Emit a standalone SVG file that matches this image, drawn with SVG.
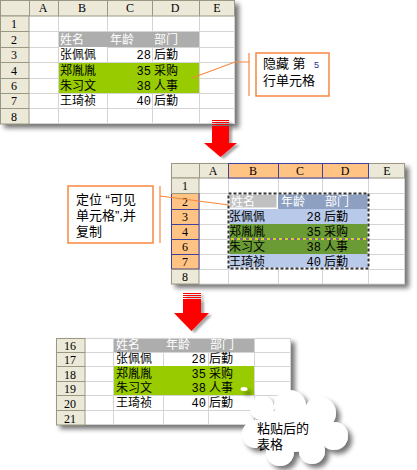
<svg xmlns="http://www.w3.org/2000/svg" width="417" height="470" viewBox="0 0 417 470">
<defs>
<style>
.hd{fill:#ece9d8;stroke:#9a9882;stroke-width:1}
.hdo{fill:#ffc384;stroke:#4040a0;stroke-width:1}
.grid{stroke:#d4d4d4;stroke-width:1;fill:none}
.hl{font-family:"Liberation Serif",serif;font-size:12px;fill:#000;text-anchor:middle}
.c{font-family:"Liberation Sans","Noto Sans CJK SC",sans-serif;font-size:12px;fill:#000}
.w{fill:#fff}
.n{font-family:"Liberation Mono",monospace;font-size:12px;fill:#000;text-anchor:end}
.co{font-family:"Liberation Sans","Noto Sans CJK SC",sans-serif;font-size:13px;fill:#000}
.ob{fill:#fff;stroke:#f7883e;stroke-width:1.5}
.ol{stroke:#f7883e;stroke-width:1.2;fill:none}
.arr{fill:#ff0000}
</style>
<filter id="sh" x="-10%" y="-10%" width="130%" height="130%">
<feGaussianBlur in="SourceAlpha" stdDeviation="2.5"/>
<feOffset dx="4" dy="4" result="b"/>
<feComponentTransfer><feFuncA type="linear" slope="0.55"/></feComponentTransfer>
<feMerge><feMergeNode/><feMergeNode in="SourceGraphic"/></feMerge>
</filter>
<filter id="ash" x="-20%" y="-20%" width="150%" height="150%">
<feGaussianBlur in="SourceAlpha" stdDeviation="1"/>
<feOffset dx="3" dy="2"/>
<feComponentTransfer><feFuncA type="linear" slope="0.35"/></feComponentTransfer>
<feMerge><feMergeNode/><feMergeNode in="SourceGraphic"/></feMerge>
</filter>
</defs>
<rect width="417" height="470" fill="#fff"/>

<!-- Sheet 1 -->
<g id="sheet1">
<rect x="0" y="0" width="235" height="124" fill="#fff" filter="url(#sh)"/>
<rect x="58" y="31" width="141" height="16" fill="#adadad"/>
<rect x="58" y="62" width="141" height="31" fill="#99cc00"/>
<path class="grid" d="M29,31.5H235M29,47.5H58M107,47.5H235M29,62.5H235M29,78.5H58M199,78.5H235M29,93.5H235M29,108.5H235M29,123.5H235M58.5,16V124M107.5,16V31M107.5,47V62M107.5,93V124M152.5,16V31M152.5,47V62M152.5,93V124M199.5,16V124M234.5,16V124"/>
<rect class="hd" x="0.5" y="0.5" width="234" height="15.5"/>
<path d="M29.5,0V16M58.5,0V16M107.5,0V16M152.5,0V16M199.5,0V16" stroke="#9a9882"/>
<rect class="hd" x="0.5" y="16" width="28.5" height="108"/>
<path d="M0,31.5H29M0,47.5H29M0,62.5H29M0,78.5H29M0,93.5H29M0,108.5H29" stroke="#9a9882"/>
<text class="hl" x="43" y="12">A</text><text class="hl" x="82" y="12">B</text><text class="hl" x="130" y="12">C</text><text class="hl" x="175" y="12">D</text><text class="hl" x="217" y="12">E</text>
<text class="hl" x="14" y="28">1</text><text class="hl" x="14" y="44">2</text><text class="hl" x="14" y="59">3</text><text class="hl" x="14" y="75">4</text><text class="hl" x="14" y="90">6</text><text class="hl" x="14" y="105">7</text><text class="hl" x="14" y="121">8</text>
<text class="c w" x="60" y="44">姓名</text><text class="c w" x="110" y="44">年龄</text><text class="c w" x="154" y="44">部门</text>
<text class="c" x="60" y="59">张佩佩</text><text class="n" x="151" y="59">28</text><text class="c" x="154" y="59">后勤</text>
<text class="c" x="60" y="75">郑胤胤</text><text class="n" x="151" y="75">35</text><text class="c" x="154" y="75">采购</text>
<text class="c" x="60" y="90">朱习文</text><text class="n" x="151" y="90">38</text><text class="c" x="154" y="90">人事</text>
<text class="c" x="60" y="105">王琦祯</text><text class="n" x="151" y="105">40</text><text class="c" x="154" y="105">后勤</text>
</g>

<!-- Sheet 2 -->
<g id="sheet2">
<rect x="171" y="163" width="234" height="121" fill="#fff" filter="url(#sh)"/>
<rect x="278" y="193" width="90" height="16" fill="#8ea0c2"/>
<rect x="229" y="194" width="48" height="14" fill="#c0c0c0" stroke="#fff" stroke-width="1"/>
<rect x="228" y="209" width="140" height="15" fill="#b9c9e9"/>
<rect x="228" y="224" width="140" height="30" fill="#6b9b35"/>
<rect x="228" y="254" width="140" height="15" fill="#b9c9e9"/>
<path class="grid" d="M199,193.5H405M199,209.5H228M368,209.5H405M199,224.5H228M368,224.5H405M199,239.5H228M368,239.5H405M199,254.5H228M368,254.5H405M199,269.5H405M199,284H405M228.5,178V284M278.5,178V193M278.5,269V284M322.5,178V193M322.5,269V284M368.5,178V284M404.5,178V284"/>
<rect class="hd" x="171.5" y="163.5" width="233" height="14.5"/>
<rect class="hdo" x="228.5" y="163.5" width="140" height="14.5"/>
<path d="M278.5,163V178M322.5,163V178" stroke="#4040a0"/>
<path d="M199.5,163V178" stroke="#9a9882"/>
<rect class="hd" x="171.5" y="178" width="27.5" height="106"/>
<rect class="hdo" x="171.5" y="193.5" width="27.5" height="75.5"/>
<path d="M171,209.5H199M171,224.5H199M171,239.5H199M171,254.5H199" stroke="#4040a0"/>
<path d="M171,193.5H199M171,269.5H199" stroke="#9a9882"/>
<text class="hl" x="213" y="175">A</text><text class="hl" x="253" y="175">B</text><text class="hl" x="300" y="175">C</text><text class="hl" x="345" y="175">D</text><text class="hl" x="387" y="175">E</text>
<text class="hl" x="185" y="190">1</text><text class="hl" x="185" y="206">2</text><text class="hl" x="185" y="221">3</text><text class="hl" x="185" y="236">4</text><text class="hl" x="185" y="251">6</text><text class="hl" x="185" y="266">7</text><text class="hl" x="185" y="281">8</text>
<text class="c w" x="231" y="206">姓名</text><text class="c w" x="281" y="206">年龄</text><text class="c w" x="325" y="206">部门</text>
<text class="c" x="229" y="221">张佩佩</text><text class="n" x="321" y="221">28</text><text class="c" x="324" y="221">后勤</text>
<text class="c" x="229" y="236">郑胤胤</text><text class="n" x="321" y="236">35</text><text class="c" x="324" y="236">采购</text>
<text class="c" x="229" y="251">朱习文</text><text class="n" x="321" y="251">38</text><text class="c" x="324" y="251">人事</text>
<text class="c" x="229" y="266">王琦祯</text><text class="n" x="321" y="266">40</text><text class="c" x="324" y="266">后勤</text>
<path d="M228,239H368" stroke="#c8e000" stroke-width="2"/>
<path d="M228,239H368" stroke="#8060b0" stroke-width="2" stroke-dasharray="3,3"/>
<rect x="228.5" y="193.5" width="140" height="75" fill="none" stroke="#fff" stroke-width="2"/>
<rect x="228.5" y="193.5" width="140" height="75" fill="none" stroke="#333" stroke-width="2" stroke-dasharray="3,2"/>
</g>

<!-- Sheet 3 -->
<g id="sheet3">
<rect x="56" y="338" width="235" height="87" fill="#fff" filter="url(#sh)"/>
<rect x="113" y="338" width="141" height="14" fill="#adadad"/>
<rect x="113" y="366" width="141" height="29" fill="#99cc00"/>
<path class="grid" d="M85,352.5H291M85,366.5H113M254,366.5H291M85,381.5H113M254,381.5H291M85,395.5H291M85,410.5H291M85,424.5H291M85,338.5H291M113.5,338V425M163.5,352V366M163.5,395V425M208.5,352V366M208.5,395V425M254.5,338V425M290.5,338V425"/>
<rect class="hd" x="56.5" y="338.5" width="28.5" height="86.5"/>
<path d="M56,352.5H85M56,366.5H85M56,381.5H85M56,395.5H85M56,410.5H85" stroke="#9a9882"/>
<text class="hl" x="70" y="350">16</text><text class="hl" x="70" y="364">17</text><text class="hl" x="70" y="379">18</text><text class="hl" x="70" y="393">19</text><text class="hl" x="70" y="408">20</text><text class="hl" x="70" y="423">21</text>
<text class="c w" x="116" y="349">姓名</text><text class="c w" x="166" y="349">年龄</text><text class="c w" x="210" y="349">部门</text>
<text class="c" x="116" y="363">张佩佩</text><text class="n" x="206" y="363">28</text><text class="c" x="209" y="363">后勤</text>
<text class="c" x="116" y="378">郑胤胤</text><text class="n" x="206" y="378">35</text><text class="c" x="209" y="378">采购</text>
<text class="c" x="116" y="392">朱习文</text><text class="n" x="206" y="392">38</text><text class="c" x="209" y="392">人事</text>
<text class="c" x="116" y="407">王琦祯</text><text class="n" x="206" y="407">40</text><text class="c" x="209" y="407">后勤</text>
</g>

<!-- Arrows -->
<g id="arrow1" filter="url(#ash)">
<rect class="arr" x="212" y="120" width="17" height="1"/>
<rect class="arr" x="212" y="122" width="17" height="1"/>
<rect class="arr" x="212" y="124" width="17" height="1"/>
<rect class="arr" x="212" y="126" width="17" height="17"/>
<polygon class="arr" points="204,143 237,143 220.5,157"/>
</g>
<g id="arrow2" filter="url(#ash)">
<rect class="arr" x="183" y="293" width="18" height="1"/>
<rect class="arr" x="183" y="295" width="18" height="1"/>
<rect class="arr" x="183" y="297" width="18" height="1"/>
<rect class="arr" x="183" y="299" width="18" height="14"/>
<polygon class="arr" points="174,313 209,313 191.5,331"/>
</g>

<!-- Callouts -->
<g id="connectors">
<polyline class="ol" points="192,78 235,62 249,62"/>
<line class="ol" x1="249" y1="53" x2="249" y2="96"/>
<line class="ol" x1="160" y1="196" x2="229" y2="205"/>
<line class="ol" x1="160" y1="186" x2="160" y2="243"/>
</g>
<g id="callout1">
<rect class="ob" x="256" y="53" width="73" height="43"/>
<text class="co" x="263" y="68">隐藏 第</text>
<text x="314" y="68" font-family="Liberation Sans,sans-serif" font-size="9" fill="#2a2a9a">5</text>
<text class="co" x="263" y="85">行单元格</text>
</g>
<g id="callout2">
<rect class="ob" x="68" y="186" width="85" height="57"/>
<text class="co" x="76" y="204">定位 “可见</text>
<text class="co" x="76" y="220">单元格”,并</text>
<text class="co" x="76" y="236">复制</text>
</g>
<g id="cloud">
<g fill="#fff" filter="url(#sh)">
<ellipse cx="244" cy="389" rx="3.5" ry="2"/>
<circle cx="262" cy="408" r="12"/>
<circle cx="290" cy="406" r="16"/>
<circle cx="320" cy="413" r="16"/>
<circle cx="334" cy="436" r="14"/>
<circle cx="312" cy="451" r="13"/>
<circle cx="280" cy="452" r="14"/>
<circle cx="256" cy="434" r="14"/>
<ellipse cx="293" cy="430" rx="38" ry="22"/>
</g>
<text class="co" x="257" y="433">粘贴后的</text>
<text class="co" x="257" y="449">表格</text>
</g>
</svg>
